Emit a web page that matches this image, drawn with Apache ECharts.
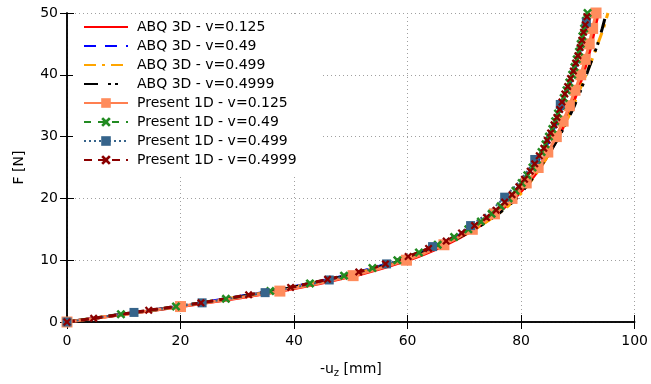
<!DOCTYPE html>
<html><head><meta charset="utf-8">
<script src="https://cdn.jsdelivr.net/npm/echarts@6/dist/echarts.min.js"></script>
<style>html,body{margin:0;padding:0;background:#fff}#c{width:651px;height:384px}</style>
</head><body><div id="c"></div>
<script>
// ---- data (x = -u_z [mm], y = F [N]) ----
const seriesNames = ['ABQ 3D - v=0.125','ABQ 3D - v=0.49','ABQ 3D - v=0.499','ABQ 3D - v=0.4999',
  'Present 1D - v=0.125','Present 1D - v=0.49','Present 1D - v=0.499','Present 1D - v=0.4999'];
const xTicks = [0,20,40,60,80,100];
const yTicks = [0,10,20,30,40,50];

const abqF = [0,2.5,5,7.5,10,12.5,15,17.5,20,22.5,25,27.5,30,32.5,35,37.5,40,42.5,45,47.5,50];
const abq0125X = [0,20.2,37.8,50.8,60.2,66.8,71.8,75.7,78.8,81.3,83.4,85.1,86.6,87.9,89.0,90.0,90.9,91.7,92.4,93.0,93.6];
const abq049X  = [0,19.4,36.0,49.0,58.5,65.6,71.0,75.1,78.1,80.4,82.3,83.9,85.2,86.3,87.3,88.2,89.2,90.0,90.7,91.3,91.9];
const abq0499X = [0,19.5,36.3,49.4,59.1,66.3,71.8,76.0,79.2,81.5,83.4,85.1,86.6,88.0,89.2,90.3,91.4,92.5,93.5,94.5,95.3];
const abq04999X= [0,19.5,36.3,49.4,59.1,66.3,71.8,76.0,79.2,81.4,83.3,85.1,86.7,88.1,89.4,90.5,91.5,92.5,93.5,94.3,95.0];

const p0125F = [0,2.5,5,7.5,10,12.5,15,17.5,20,22.5,25,27.5,30,32.5,35,37.5,40,42.5,45,47.5,50];
const p0125X = [0,20,37.5,50.4,59.8,66.4,71.4,75.3,78.4,80.9,83.0,84.7,86.2,87.4,88.5,89.5,90.5,91.3,92.0,92.6,93.2];

const p049F = [0,1.25,2.5,3.75,5,6.25,7.5,8.75,10,11.25,12.5,13.75,15,16.25,17.5,18.75,20,21.25,22.5,23.75,25,
  26.25,27.5,28.75,30,31.25,32.5,33.75,35,36.25,37.5,38.75,40,41.25,42.5,43.75,45,46.25,47.5,48.75,50];
const p049X = [0,9.5,19.2,28.0,35.8,42.8,48.8,53.8,58.2,62.0,65.3,68.2,70.7,72.9,74.8,76.4,77.8,79.0,80.1,81.1,82.0,
  82.8,83.6,84.3,84.9,85.5,86.0,86.5,87.0,87.5,88.0,88.5,89.0,89.4,89.8,90.2,90.5,90.8,91.1,91.4,91.7];

const p0499F = [0,1.55,3.1,4.75,6.8,9.4,12.2,15.6,20.2,26.3,35.2,48.5];
const p0499X = [0,11.8,23.8,34.9,46.2,56.3,64.4,71.1,77.1,82.4,86.9,91.5];

const p04999F = [0,0.6,1.9,3.1,4.4,5.6,6.9,8.1,9.4,10.6,11.9,13.1,14.4,15.6,16.9,18.1,19.4,20.6,21.9,23.1,24.4,
  25.6,26.9,28.1,29.4,30.6,31.9,33.1,34.4,35.6,36.9,38.1,39.4,40.6,41.9,43.1,44.4,45.6,46.9,48.1,49.4];
const p04999X = [0,4.7,14.4,23.6,32.0,39.4,45.9,51.4,56.1,60.1,63.7,66.8,69.5,71.8,73.9,75.6,77.1,78.4,79.6,80.6,81.6,
  82.4,83.2,84.0,84.6,85.2,85.8,86.3,86.8,87.2,87.7,88.2,88.7,89.2,89.6,90.0,90.4,90.7,91.0,91.3,91.6];

const zip = (xs, ys) => xs.map((x, i) => [x, ys[i]]);
const XPATH = 'path://M0,2 L2,0 L5,3 L8,0 L10,2 L7,5 L10,8 L8,10 L5,7 L2,10 L0,8 L3,5 Z';

const chart = echarts.init(document.getElementById('c'), null, {renderer: 'canvas'});
const font = 'DejaVu Sans';
const axisCommon = {
  axisLine: {show: true, lineStyle: {color: '#000', width: 1.5}},
  axisTick: {show: true, inside: true, length: 7, lineStyle: {color: '#000', width: 1}},
};
function lineSeries(name, data, color, width, type, extra) {
  return Object.assign({
    name, type: 'line', data, showSymbol: false, symbol: 'none', smooth: 0.2,
    lineStyle: {color, width, type}, itemStyle: {color}, animation: false, clip: true
  }, extra || {});
}
const legendData = seriesNames.map((n, i) => i < 4
  ? {name: n, itemStyle: {color: 'rgba(0,0,0,0)', borderWidth: 0, opacity: 0}}
  : {name: n});
const option = {
  animation: false,
  textStyle: {fontFamily: font},
  grid: {left: 67, right: 16, top: 13, bottom: 62},
  xAxis: [
    Object.assign({type: 'value', min: 0, max: 100, interval: 20, position: 'bottom',
      name: '{a|-u}{s|z}{a| [mm]}', nameLocation: 'middle', nameGap: 38,
      nameTextStyle: {rich: {a: {fontSize: 14, fontFamily: font, color: '#000'},
        s: {fontSize: 10, fontFamily: font, color: '#000', verticalAlign: 'bottom', padding: [8,0,0,0]}}},
      axisLabel: {color: '#000', fontSize: 14, fontFamily: font, margin: 12},
      splitLine: {show: true, lineStyle: {color: '#a0a0a0', width: 1, type: [1, 3]}}}, axisCommon),
    Object.assign({type: 'value', min: 0, max: 100, interval: 20, position: 'top',
      axisLabel: {show: false}, splitLine: {show: false}}, axisCommon)
  ],
  yAxis: [
    Object.assign({type: 'value', min: 0, max: 50, interval: 10, position: 'left',
      name: 'F [N]', nameLocation: 'middle', nameGap: 41, nameRotate: 90,
      nameTextStyle: {fontSize: 14, fontFamily: font, color: '#000'},
      axisLabel: {color: '#000', fontSize: 14, fontFamily: font, margin: 9},
      splitLine: {show: true, lineStyle: {color: '#a0a0a0', width: 1, type: [1, 3]}}}, axisCommon),
    Object.assign({type: 'value', min: 0, max: 50, interval: 10, position: 'right',
      axisLabel: {show: false}, splitLine: {show: false}}, axisCommon)
  ],
  legend: {
    orient: 'vertical', left: 73, top: 15, padding: [5, 24, 9, 10],
    backgroundColor: '#fff', itemWidth: 44, itemHeight: 12, itemGap: 5,
    textStyle: {fontSize: 14, fontFamily: font, color: '#000', padding: [0, 0, 0, 4]},
    data: legendData
  },
  series: [
    lineSeries(seriesNames[0], zip(abq0125X, abqF), '#ff0000', 3, 'solid'),
    lineSeries(seriesNames[1], zip(abq049X, abqF), '#0000ff', 3, [12, 9]),
    lineSeries(seriesNames[2], zip(abq0499X, abqF), '#ffa500', 3, [12, 6, 3, 6]),
    lineSeries(seriesNames[3], zip(abq04999X, abqF), '#000000', 3, [14, 10, 3, 4, 3, 10]),
    lineSeries(seriesNames[4], zip(p0125X, p0125F), '#ff7f50', 3, 'solid',
      {showSymbol: true, symbol: 'rect', symbolSize: 11, itemStyle: {color: '#ff8c5c'}}),
    lineSeries(seriesNames[5], zip(p049X, p049F), '#228b22', 3, [7, 7],
      {showSymbol: true, symbol: XPATH, symbolSize: 9, itemStyle: {color: '#228b22'}}),
    lineSeries(seriesNames[6], zip(p0499X, p0499F), '#36648b', 2, [2, 3],
      {showSymbol: true, symbol: 'rect', symbolSize: 9, smooth: 0.4, itemStyle: {color: '#36648b'}}),
    lineSeries(seriesNames[7], zip(p04999X, p04999F), '#8b0000', 3, [8, 6],
      {showSymbol: true, symbol: XPATH, symbolSize: 8, itemStyle: {color: '#8b0000'}})
  ]
};
chart.setOption(option);
</script>
</body></html>
